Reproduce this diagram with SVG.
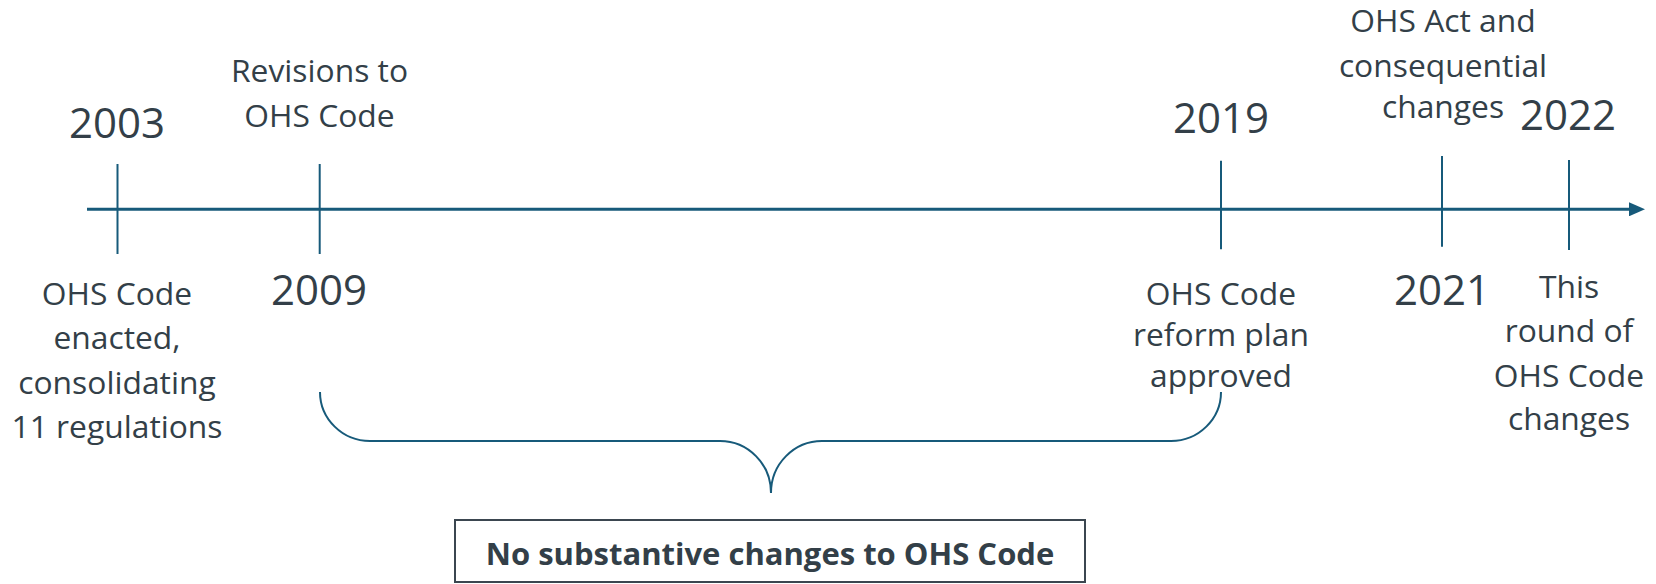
<svg xmlns="http://www.w3.org/2000/svg" width="1656" height="584" viewBox="0 0 1656 584">
  <style>
    .lbl { font-family: "Open Sans", "Noto Sans", "Liberation Sans", sans-serif; font-size: 31.8px; fill: #333f48; text-anchor: middle; }
    .yr { font-family: "Open Sans", "Noto Sans", "Liberation Sans", sans-serif; font-size: 42px; fill: #333f48; text-anchor: middle; }
    .bold { font-family: "Open Sans", "Noto Sans", "Liberation Sans", sans-serif; font-size: 31px; font-weight: bold; fill: #333f48; text-anchor: middle; }
    .tick { stroke: #175a7a; stroke-width: 2; fill: none; }
    .axis { stroke: #175a7a; stroke-width: 3; fill: none; }
    .brace { stroke: #175a7a; stroke-width: 2; fill: none; }
    .box { stroke: #3b4650; stroke-width: 2; fill: #ffffff; }
  </style>
  <defs>
    <marker id="arrow" markerUnits="userSpaceOnUse" markerWidth="16" markerHeight="14" refX="0" refY="7" orient="auto">
      <path d="M0,0 L16,7 L0,14 z" fill="#175a7a"/>
    </marker>
  </defs>
  <rect width="1656" height="584" fill="#ffffff"/>

  <g id="connectors">
    <line class="axis" x1="87" y1="209.3" x2="1629" y2="209.3" marker-end="url(#arrow)"/>
    <path class="brace" d="M320 392 C320 419 342.5 441 370 441 L720 441 C748 441 771 464 771 493 C771 464 794 441 822 441 L1171 441 C1198.5 441 1221 419 1221 392"/>
  </g>

  <g id="event-2003">
    <line class="tick" x1="117.5" y1="164" x2="117.5" y2="254"/>
    <text class="yr" x="117" y="138">2003</text>
    <text class="lbl" x="117" y="305">OHS Code</text>
    <text class="lbl" x="117" y="349">enacted,</text>
    <text class="lbl" x="117" y="393.5">consolidating</text>
    <text class="lbl" x="117" y="438">11 regulations</text>
  </g>

  <g id="event-2009">
    <line class="tick" x1="319.7" y1="164" x2="319.7" y2="254"/>
    <text class="lbl" x="319.5" y="82.3">Revisions to</text>
    <text class="lbl" x="319.5" y="126.7">OHS Code</text>
    <text class="yr" x="319" y="305">2009</text>
  </g>

  <g id="event-2019">
    <line class="tick" x1="1221" y1="160.7" x2="1221" y2="249.3"/>
    <text class="yr" x="1221" y="133.3">2019</text>
    <text class="lbl" x="1221" y="305">OHS Code</text>
    <text class="lbl" x="1221" y="345.5">reform plan</text>
    <text class="lbl" x="1221" y="386.5">approved</text>
  </g>

  <g id="event-2021">
    <line class="tick" x1="1442" y1="156" x2="1442" y2="246.7"/>
    <text class="lbl" x="1443" y="32.3">OHS Act and</text>
    <text class="lbl" x="1443" y="76.7">consequential</text>
    <text class="lbl" x="1443" y="118.3">changes</text>
    <text class="yr" x="1442" y="305">2021</text>
  </g>

  <g id="event-2022">
    <line class="tick" x1="1569" y1="160" x2="1569" y2="250"/>
    <text class="yr" x="1568" y="130">2022</text>
    <text class="lbl" x="1569" y="298.3">This</text>
    <text class="lbl" x="1569" y="342">round of</text>
    <text class="lbl" x="1569" y="386.5">OHS Code</text>
    <text class="lbl" x="1569" y="430">changes</text>
  </g>

  <g id="summary-box">
    <rect class="box" x="455" y="520" width="630" height="62"/>
    <text class="bold" x="770" y="565">No substantive changes to OHS Code</text>
  </g>
</svg>
